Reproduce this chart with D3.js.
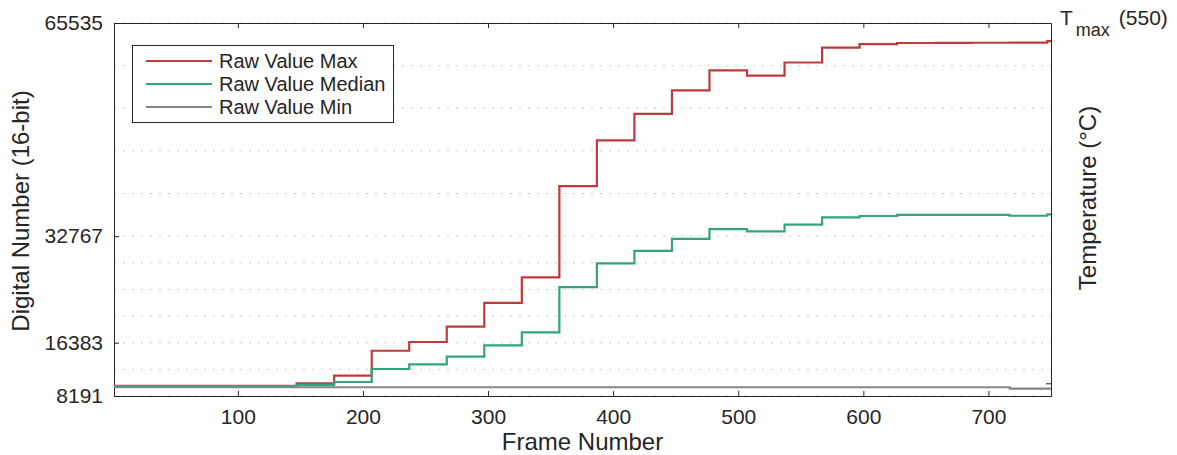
<!DOCTYPE html>
<html>
<head>
<meta charset="utf-8">
<script src="https://cdn.jsdelivr.net/npm/d3@7"></script>
<style>
  body { margin: 0; background: #fff; }
  svg { display: block; font-family: 'Liberation Sans', Arial, Helvetica, sans-serif; }
  text { fill: #262626; }
</style>
</head>
<body>
<svg width="1177" height="455"></svg>
<script>
// frames where the values change (step starts), last one closes the line
const frames = [1, 147, 177, 207, 237, 267, 297, 327, 357, 387, 417, 447, 477, 507, 537, 567, 597, 627, 657, 687, 717, 747, 750]

// raw values (16-bit digital number)
const maxValues = [9760, 10140, 11310, 15150, 16490, 18850, 22500, 26420, 40450, 47500, 51550, 55190, 58240, 57430, 59460, 61750, 62280, 62460, 62480, 62500, 62520, 62740, 62740]
const medianValues = [9700, 9900, 10340, 12340, 13060, 14230, 15980, 17980, 24930, 28580, 30510, 32360, 33840, 33500, 34530, 35640, 35860, 36040, 36040, 36040, 35900, 36100, 36100]
const minValues = [9540, 9540, 9540, 9540, 9540, 9540, 9540, 9540, 9540, 9540, 9540, 9540, 9540, 9540, 9540, 9540, 9540, 9540, 9540, 9540, 9320, 9320, 9320]

const seriesNames = ['Raw Value Max', 'Raw Value Median', 'Raw Value Min']
const seriesColors = ['#be3a3c', '#35a47c', '#868686']

// axis ticks
const xTicks = [100, 200, 300, 400, 500, 600, 700]
const yTicks = [8191, 16383, 32767, 65535]
// dotted grid (temperature axis ticks on the right)
const gridValues = [8191, 12287, 16383, 20479, 24575, 28671, 32767, 39321, 45875, 52428, 58982, 65535]
const rightTicks = [10142]

// plot area
const plotLeft = 114
const plotRight = 1051
const plotTop = 23
const plotBottom = 396

const svg = d3.select('svg')

const xScale = d3.scaleLinear().domain([1, 750]).range([plotLeft, plotRight])
const yScale = d3.scaleLinear().domain([8191, 65535]).range([plotBottom, plotTop])

// grid lines
svg.append('g')
  .selectAll('line')
  .data(gridValues)
  .enter()
  .append('line')
  .attr('x1', plotLeft)
  .attr('x2', plotRight)
  .attr('y1', (d) => yScale(d))
  .attr('y2', (d) => yScale(d))
  .attr('stroke', '#c9c9c9')
  .attr('stroke-width', 1)
  .attr('stroke-dasharray', '2,7')

// axes (ticks point inward, box round the plot)
const axisStyle = (g) => {
  g.select('.domain').attr('stroke', '#262626')
  g.selectAll('.tick line').attr('stroke', '#262626')
  g.selectAll('.tick text').attr('fill', '#262626')
}

svg.append('g')
  .attr('transform', `translate(0, ${plotBottom})`)
  .call(d3.axisBottom(xScale).tickValues(xTicks).tickSizeInner(-5).tickSizeOuter(0).tickPadding(13))
  .call(axisStyle)
  .selectAll('text')
  .attr('font-size', 21)
  .attr('font-family', 'Liberation Sans, Arial, sans-serif')

svg.append('g')
  .attr('transform', `translate(0, ${plotTop})`)
  .call(d3.axisTop(xScale).tickValues(xTicks).tickSizeInner(-5).tickSizeOuter(0).tickFormat(''))
  .call(axisStyle)

svg.append('g')
  .attr('transform', `translate(${plotLeft}, 0)`)
  .call(d3.axisLeft(yScale).tickValues(yTicks).tickFormat(d3.format('d')).tickSizeInner(-5).tickSizeOuter(0).tickPadding(11))
  .call(axisStyle)
  .selectAll('text')
  .attr('font-size', 21)
  .attr('font-family', 'Liberation Sans, Arial, sans-serif')

svg.append('g')
  .attr('transform', `translate(${plotRight}, 0)`)
  .call(d3.axisRight(yScale).tickValues(rightTicks).tickSizeInner(-5).tickSizeOuter(0).tickFormat(''))
  .call(axisStyle)

// step lines
const allValues = [maxValues, medianValues, minValues]
const line = d3.line()
  .x((d) => xScale(d[0]))
  .y((d) => yScale(d[1]))
  .curve(d3.curveStepAfter)

svg.append('g')
  .selectAll('path')
  .data(allValues)
  .enter()
  .append('path')
  .attr('d', (vals) => line(frames.map((f, i) => [f, vals[i]])))
  .attr('fill', 'none')
  .attr('stroke', (d, i) => seriesColors[i])
  .attr('stroke-width', 2.2)

// legend
const legend = svg.append('g')
legend.append('rect')
  .attr('x', 132.5)
  .attr('y', 45.5)
  .attr('width', 261)
  .attr('height', 77)
  .attr('fill', '#fff')
  .attr('stroke', '#262626')
  .attr('stroke-width', 1)

const items = legend.selectAll('g.item')
  .data(seriesNames)
  .enter()
  .append('g')
  .attr('class', 'item')
  .attr('transform', (d, i) => `translate(0, ${61 + i * 23})`)

items.append('line')
  .attr('x1', 146)
  .attr('x2', 212)
  .attr('stroke', (d, i) => seriesColors[i])
  .attr('stroke-width', 2.2)

items.append('text')
  .attr('x', 219)
  .attr('y', 7)
  .attr('font-size', 20)
  .text((d) => d)

// axis titles
svg.append('text')
  .attr('x', plotLeft + (plotRight - plotLeft) / 2)
  .attr('y', 450)
  .attr('text-anchor', 'middle')
  .attr('font-size', 24)
  .text('Frame Number')

svg.append('text')
  .attr('transform', 'translate(29, 211) rotate(-90)')
  .attr('text-anchor', 'middle')
  .attr('font-size', 24)
  .text('Digital Number (16-bit)')

svg.append('text')
  .attr('transform', 'translate(1096, 198) rotate(-90)')
  .attr('text-anchor', 'middle')
  .attr('font-size', 24)
  .text('Temperature (°C)')

// T_max label on the top right
const tmax = svg.append('text')
  .attr('x', 1060)
  .attr('y', 25)
  .attr('font-size', 21)
tmax.append('tspan').text('T')
tmax.append('tspan').attr('dy', 11).attr('dx', 3).attr('font-size', 18).text('max')
tmax.append('tspan').attr('dy', -11).attr('dx', 9).text('(550)')
</script>
</body>
</html>
